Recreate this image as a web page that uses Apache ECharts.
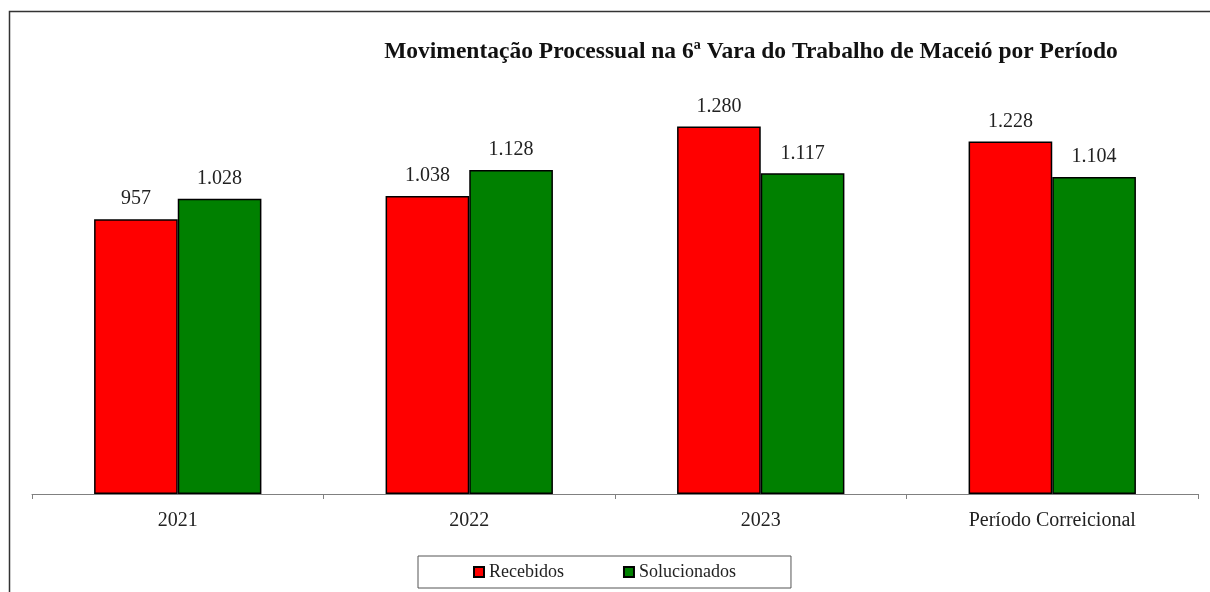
<!DOCTYPE html>
<html>
<head>
<meta charset="utf-8">
<script src="https://cdn.jsdelivr.net/npm/echarts@6/dist/echarts.min.js"></script>
<style>
html,body{margin:0;padding:0;background:#fff;}
#chart{width:1210px;height:592px;}
</style>
</head>
<body>
<div id="chart"></div>
<script>
var categorias = ['2021', '2022', '2023', 'Período Correicional'];
var recebidos = [957, 1038, 1280, 1228];
var solucionados = [1028, 1128, 1117, 1104];

// separador de milhar com ponto
function fmt(v){
	return String(v).replace(/\B(?=(\d{3})+(?!\d))/g, '.');
}

var serif = '"Liberation Serif", "Times New Roman", serif';

var option = {
	backgroundColor: '#fff',
	textStyle: { fontFamily: serif },
	title: {
		text: 'Movimentação Processual na 6ª Vara do Trabalho de Maceió por Período',
		left: 746,
		textAlign: 'center',
		top: 35,
		textStyle: { fontFamily: serif, fontSize: 23.5, fontWeight: 'bold', color: '#111' }
	},
	graphic: [
		{
			type: 'rect',
			shape: { x: 9.5, y: 11.5, width: 1220, height: 620 },
			style: { fill: null, stroke: '#333', lineWidth: 1.5 },
			silent: true
		}
	],
	legend: {
		data: ['Recebidos', 'Solucionados'],
		left: 418,
		top: 556,
		padding: [7, 55, 7, 55],
		borderColor: '#555',
		borderWidth: 1,
		itemWidth: 10,
		itemHeight: 10,
		itemGap: 59,
		icon: 'rect',
		textStyle: { fontFamily: serif, fontSize: 18, color: '#222' }
	},
	grid: { left: 32, right: 12, top: 92, bottom: 98 },
	xAxis: {
		type: 'category',
		data: categorias,
		axisLine: { lineStyle: { color: '#808080', width: 1 } },
		axisTick: { show: true, length: 5, lineStyle: { color: '#808080' } },
		axisLabel: { fontFamily: serif, fontSize: 20, color: '#222', margin: 17 }
	},
	yAxis: {
		type: 'value',
		min: 0,
		max: 1400,
		show: false,
		splitLine: { show: false }
	},
	series: [
		{
			name: 'Recebidos',
			type: 'bar',
			data: recebidos,
			barGap: '0%',
			barCategoryGap: '42.6%',
			itemStyle: { color: '#ff0000', borderColor: '#000', borderWidth: 1.5 },
			label: {
				show: true, position: 'top', distance: 10,
				fontFamily: serif, fontSize: 20, color: '#222',
				formatter: function(p){ return fmt(p.value); }
			}
		},
		{
			name: 'Solucionados',
			type: 'bar',
			data: solucionados,
			barGap: '0%',
			barCategoryGap: '42.6%',
			itemStyle: { color: '#008000', borderColor: '#000', borderWidth: 1.5 },
			label: {
				show: true, position: 'top', distance: 10,
				fontFamily: serif, fontSize: 20, color: '#222',
				formatter: function(p){ return fmt(p.value); }
			}
		}
	]
};

var mychart = echarts.init(document.getElementById('chart'));
mychart.setOption(option);
</script>
</body>
</html>
